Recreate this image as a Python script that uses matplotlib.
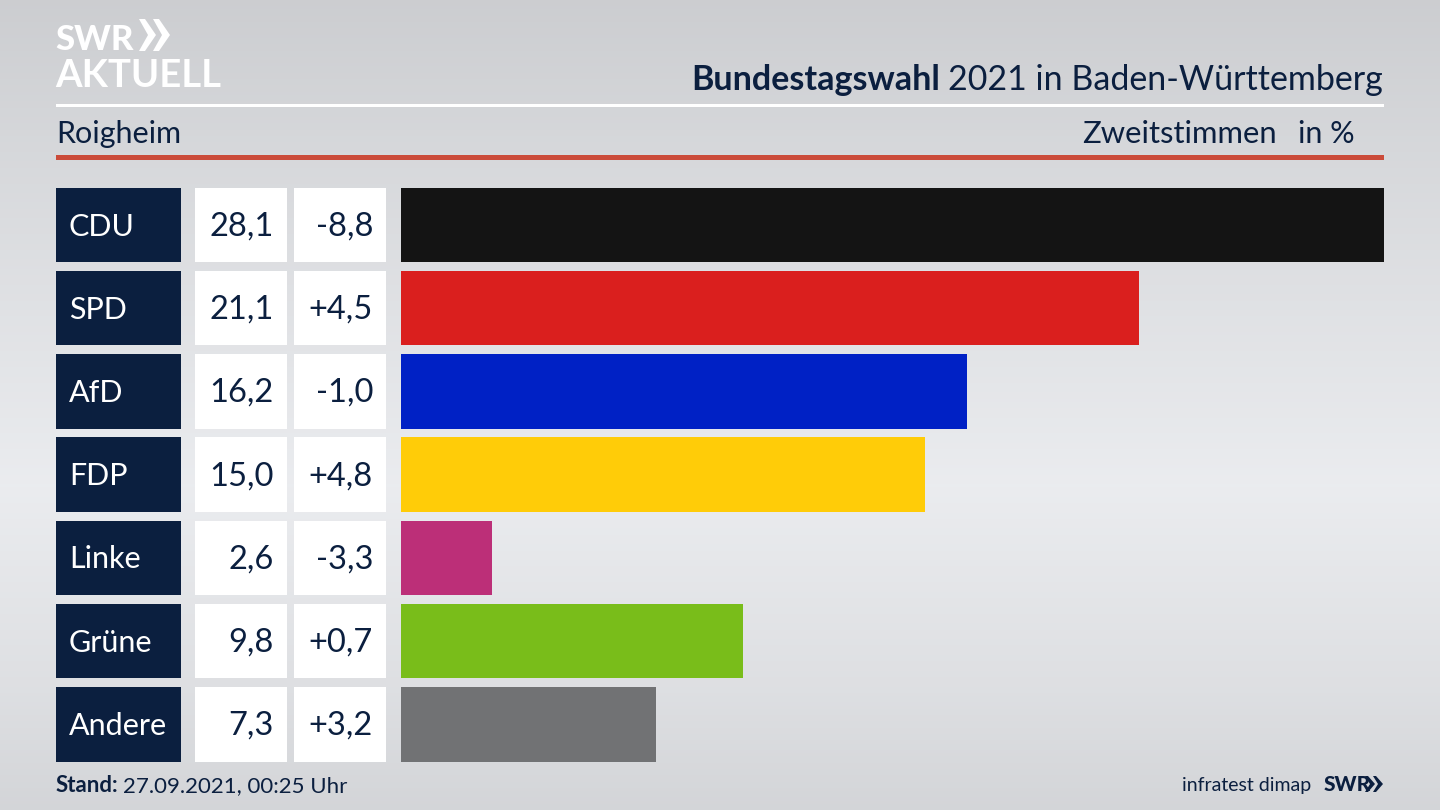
import matplotlib
matplotlib.use('Agg')
import matplotlib.pyplot as plt
import numpy as np
from matplotlib.patches import Polygon, Rectangle

parties = ['CDU', 'SPD', 'AfD', 'FDP', 'Linke', 'Grüne', 'Andere']
shares = [28.1, 21.1, 16.2, 15.0, 2.6, 9.8, 7.3]
changes = ['-8,8', '+4,5', '-1,0', '+4,8', '-3,3', '+0,7', '+3,2']
colors = ['#141414', '#da1f1e', '#0021c5', '#ffcc08', '#bc2f78', '#79bd1a', '#717274']

NAVY = '#0b1f3f'
plt.rcParams['font.family'] = 'Lato'

fig = plt.figure(figsize=(14.4, 8.1), dpi=100)

# whole figure in pixel coordinates, y pointing down
bg = fig.add_axes([0, 0, 1, 1])
bg.set_xlim(0, 1440)
bg.set_ylim(810, 0)
bg.axis('off')

# grey at the top and bottom, lighter band in the middle
grad = np.interp(np.linspace(0, 1, 256), [0, 0.18, 0.6, 0.85, 1], [0.80, 0.84, 0.92, 0.87, 0.83])
img = np.stack([grad, grad + 0.006, grad + 0.018], axis=1)
bg.imshow(img[:, None, :].clip(0, 1), extent=(0, 1440, 810, 0), aspect='auto', zorder=0)

# logo
bg.text(55, 50, 'SWR', color='white', fontsize=25, fontweight='black', va='baseline', ha='left')
for x0 in (139, 153):
    bg.add_patch(Polygon([(x0, 19), (x0 + 6, 19), (x0 + 17, 35), (x0 + 6, 51), (x0, 51), (x0 + 9, 35)],
                         color='white', lw=0, zorder=3))
bg.text(55, 87, 'AKTUELL', color='white', fontsize=27.5, fontweight='bold', va='baseline', ha='left')

# header
t = bg.text(1383, 90, '2021 in Baden-Württemberg', color=NAVY, fontsize=24.5, va='baseline', ha='right')
fig.canvas.draw()
left = t.get_window_extent().transformed(bg.transData.inverted()).x0
bg.text(left - 8, 90, 'Bundestagswahl', color=NAVY, fontsize=24.5, fontweight='bold', va='baseline', ha='right')
bg.add_patch(Rectangle((56, 104), 1328, 3, color='white', lw=0))
bg.text(56, 143, 'Roigheim', color=NAVY, fontsize=22, va='baseline', ha='left')
bg.text(1277, 143, 'Zweitstimmen', color=NAVY, fontsize=22.3, va='baseline', ha='right')
bg.text(1355, 143, 'in %', color=NAVY, fontsize=22, va='baseline', ha='right')
bg.add_patch(Rectangle((56, 155), 1328, 5, color='#cb4b3a', lw=0))

# table cells
top = 187.5
step = 83.25
height = 74.5
for i, party in enumerate(parties):
    y = top + i * step
    bg.add_patch(Rectangle((56, y), 125, height, color=NAVY, lw=0))
    bg.add_patch(Rectangle((195, y), 92, height, color='white', lw=0))
    bg.add_patch(Rectangle((294, y), 92, height, color='white', lw=0))
    bg.text(69, y + 48, party, color='white', fontsize=22, va='baseline', ha='left')
    bg.text(274, y + 48, f'{shares[i]:.1f}'.replace('.', ','), color=NAVY, fontsize=23.5, va='baseline', ha='right')
    bg.text(373, y + 48, changes[i], color=NAVY, fontsize=23.5, va='baseline', ha='right')

# bars, the largest value fills the axes
ax = fig.add_axes([400.5 / 1440, 1 - (top + 6 * step + height) / 810, 983.5 / 1440, (6 * step + height) / 810])
ax.patch.set_alpha(0)
ax.barh(range(len(parties)), shares, height=height / step, color=colors)
ax.set_xlim(0, max(shares))
ax.set_ylim(6 + height / step / 2, -height / step / 2)
ax.axis('off')

# footer
t = bg.text(56, 792, 'Stand:', color=NAVY, fontsize=16, fontweight='bold', va='baseline', ha='left')
fig.canvas.draw()
right = t.get_window_extent().transformed(bg.transData.inverted()).x1
bg.text(right + 4, 792, '27.09.2021, 00:25 Uhr', color=NAVY, fontsize=16, va='baseline', ha='left')
bg.text(1311, 791, 'infratest dimap', color=NAVY, fontsize=14, va='baseline', ha='right')
bg.text(1324, 791, 'SWR', color=NAVY, fontsize=15, fontweight='black', va='baseline', ha='left')
for x0 in (1365, 1373):
    bg.add_patch(Polygon([(x0, 776), (x0 + 3, 776), (x0 + 10, 784), (x0 + 3, 792), (x0, 792), (x0 + 5, 784)],
                         color=NAVY, lw=0, zorder=3))

fig.savefig('out.png', dpi=100)
